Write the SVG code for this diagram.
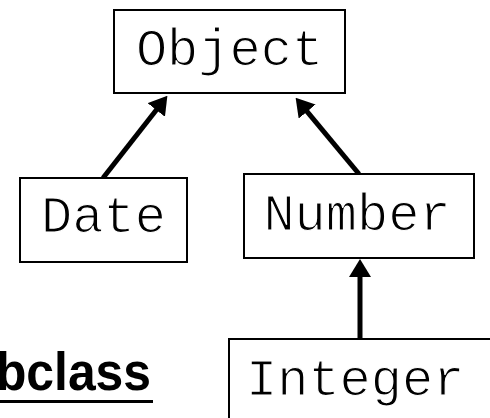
<svg xmlns="http://www.w3.org/2000/svg" width="490" height="418" viewBox="0 0 490 418">
<style>
.box{fill:#fff;stroke:#000;stroke-width:2}
.cls{font-family:"Liberation Mono","Courier New",monospace;font-size:52px;fill:#000;stroke:#fff;stroke-width:1.2px}
.edge{stroke:#000;stroke-width:5;fill:none;marker-end:url(#arr)}
.lbl{font-family:"Liberation Sans",Arial,sans-serif;font-weight:bold;font-size:53px;fill:#000}
</style>
<defs>
<marker id="arr" viewBox="0 0 18 22" refX="1" refY="11" markerWidth="18" markerHeight="22" markerUnits="userSpaceOnUse" orient="auto">
<path d="M0,0 L18,11 L0,22 Z" fill="#000"/>
</marker>
</defs>
<rect width="490" height="418" fill="#fff"/>
<g id="edges">
<line class="edge" x1="103" y1="178" x2="156.9" y2="109.2"/>
<line class="edge" x1="359" y1="174" x2="306.5" y2="110.8"/>
<line class="edge" x1="360" y1="339" x2="360" y2="276"/>
</g>
<g id="object">
<rect class="box" x="114" y="10" width="231" height="83"/>
<text class="cls" x="229.5" y="65" text-anchor="middle">Object</text>
</g>
<g id="date">
<rect class="box" x="20" y="178" width="167" height="84"/>
<text class="cls" x="103.5" y="232" text-anchor="middle">Date</text>
</g>
<g id="number">
<rect class="box" x="244" y="174" width="230" height="84"/>
<text class="cls" x="357" y="230" text-anchor="middle">Number</text>
</g>
<g id="integer">
<rect class="box" x="229" y="339" width="280" height="100"/>
<text class="cls" x="246" y="395">Integer</text>
</g>
<g id="label">
<text class="lbl" transform="translate(151,390) scale(0.94,1)" text-anchor="end">Subclass</text>
<line x1="0" y1="401.5" x2="153" y2="401.5" stroke="#000" stroke-width="3"/>
</g>
</svg>
